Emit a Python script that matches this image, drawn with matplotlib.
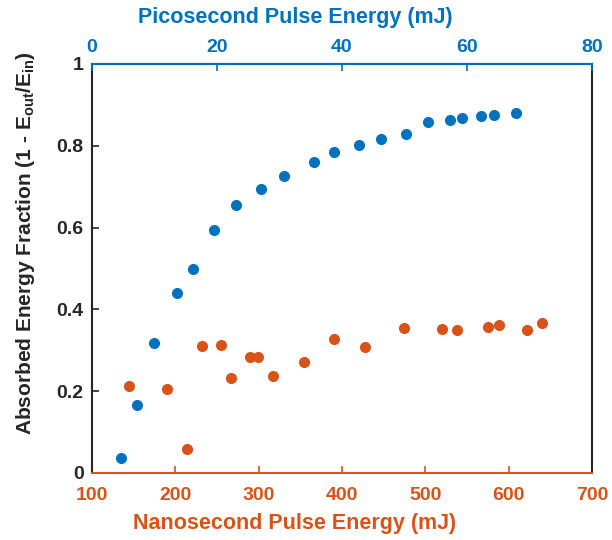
import matplotlib
matplotlib.use('Agg')
import matplotlib.pyplot as plt

plt.rcParams['font.family'] = ['Liberation Sans', 'DejaVu Sans']
plt.rcParams['font.weight'] = 'bold'
plt.rcParams['mathtext.fontset'] = 'custom'
plt.rcParams['mathtext.bf'] = 'Liberation Sans:bold'
plt.rcParams['mathtext.rm'] = 'Liberation Sans:bold'
plt.rcParams['mathtext.default'] = 'bf'

BLUE = '#0072BD'
ORANGE = '#D95319'

# picosecond data (top axis)
ps_energy = [4.6, 7.2, 10.0, 13.6, 16.1, 19.5, 23.0, 27.1, 30.8, 35.6, 38.7,
             42.8, 46.2, 50.3, 53.8, 57.3, 59.2, 62.2, 64.4, 67.8]
ps_absorbed = [0.037, 0.166, 0.319, 0.440, 0.499, 0.593, 0.656, 0.695, 0.726,
               0.761, 0.786, 0.802, 0.817, 0.829, 0.858, 0.864, 0.867, 0.872,
               0.876, 0.879]

# nanosecond data (bottom axis)
ns_energy = [144, 190, 214, 232, 255, 267, 290, 299, 317, 354, 391,
             428, 474, 520, 538, 575, 589, 622, 640]
ns_absorbed = [0.212, 0.205, 0.058, 0.311, 0.313, 0.232, 0.284, 0.284, 0.236,
               0.271, 0.328, 0.309, 0.354, 0.352, 0.350, 0.358, 0.363, 0.349,
               0.366]

fig = plt.figure(figsize=(6.12, 5.4), dpi=100)
ax = fig.add_axes([0.1503, 0.1241, 0.8170, 0.7574])

ax.plot(ns_energy, ns_absorbed, 'o', color=ORANGE, markersize=8, markeredgewidth=0)
ax.set_xlim(100, 700)
ax.set_ylim(0, 1)
ax.set_xticks(range(100, 701, 100))
ax.set_yticks([0, 0.2, 0.4, 0.6, 0.8, 1])
ax.set_yticklabels(['0', '0.2', '0.4', '0.6', '0.8', '1'])
ax.set_xlabel('Nanosecond Pulse Energy (mJ)', color=ORANGE, fontsize=15.5, fontweight='bold')
ax.set_ylabel('Absorbed Energy Fraction (1 - E$_{out}$/E$_{in}$)', color='#262626',
              fontsize=15, fontweight='bold')
ax.xaxis.set_label_coords(0.406, -0.097)
ax.yaxis.set_label_coords(-0.11, 0.562)
ax.tick_params(axis='x', colors=ORANGE, direction='in', length=5, width=1.2, labelsize=14, pad=10)
ax.tick_params(axis='y', colors='#262626', direction='in', length=5, width=1.2, labelsize=14, pad=6)
ax.spines['bottom'].set_color(ORANGE)
ax.spines['left'].set_color('#262626')
ax.spines['right'].set_color('#262626')
for s in ax.spines.values():
    s.set_linewidth(1.5)

ax2 = ax.twiny()
ax2.plot(ps_energy, ps_absorbed, 'o', color=BLUE, markersize=8, markeredgewidth=0)
ax2.set_xlim(0, 80)
ax2.set_xticks(range(0, 81, 20))
ax2.set_xlabel('Picosecond Pulse Energy (mJ)', color=BLUE, fontsize=15.5, fontweight='bold')
ax2.xaxis.set_label_coords(0.406, 1.099)
ax2.tick_params(axis='x', colors=BLUE, direction='in', length=5, width=1.2, labelsize=14, pad=6)
ax2.spines['top'].set_color(BLUE)
ax2.spines['top'].set_linewidth(1.5)
ax2.spines['bottom'].set_visible(False)
ax2.spines['left'].set_visible(False)
ax2.spines['right'].set_visible(False)

for lab in ax.get_xticklabels() + ax.get_yticklabels() + ax2.get_xticklabels():
    lab.set_fontweight('bold')

fig.savefig('out.png', dpi=100)
